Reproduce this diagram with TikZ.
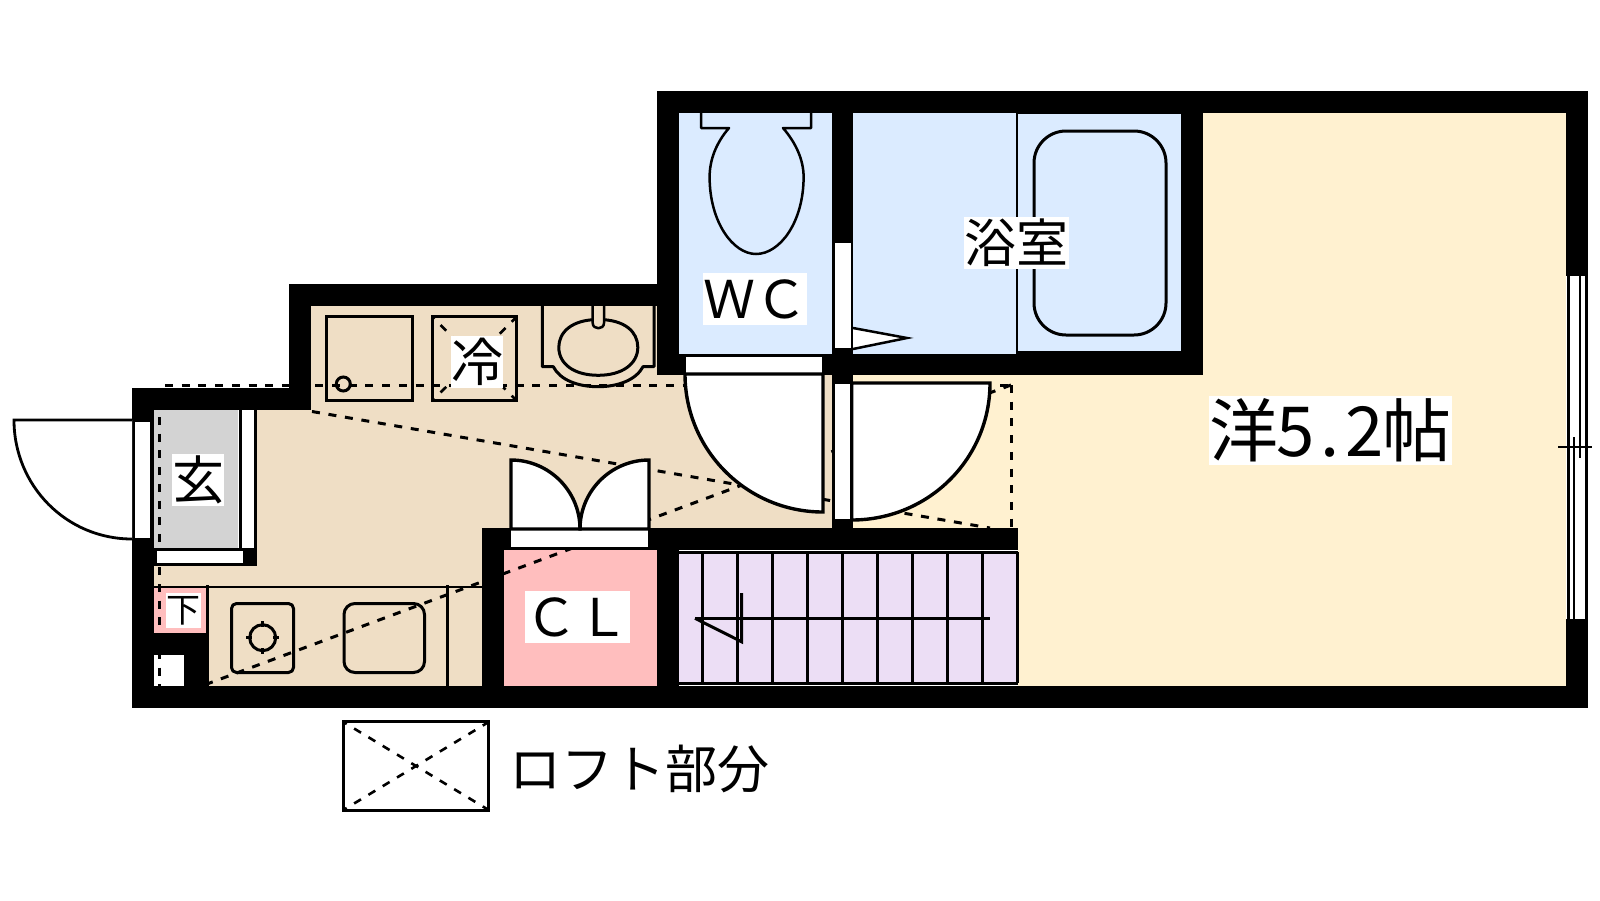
\documentclass[tikz,border=0pt]{standalone}
\usepackage{fontspec}
\newfontfamily\jp{Noto Sans CJK JP}
\definecolor{bluef}{RGB}{219,235,255}
\definecolor{creamf}{RGB}{255,241,208}
\definecolor{beigef}{RGB}{239,222,197}
\definecolor{pinkf}{RGB}{255,190,190}
\definecolor{lavf}{RGB}{236,222,245}
\definecolor{grayf}{RGB}{211,211,211}
\tikzset{
  wall/.style={fill=black,draw=none},
  loft/.style={line width=3pt,dash pattern=on 8pt off 8.7pt},
  xdash/.style={line width=2.6pt,dash pattern=on 8pt off 8.7pt,dash phase=6pt},
  fix/.style={draw=black,line width=3pt,line join=round},
  thinfix/.style={draw=black,line width=2.5pt,line join=round},
  lab/.style={fill=white,inner sep=0pt,outer sep=0pt,text=black,align=center,
    font=\jp\fontsize{52}{52}\selectfont},
  swing/.style={fill=white,draw=black,line width=3.4pt,line join=miter},
}
\newcommand{\hw}[1]{\makebox[34.5pt][c]{#1}}
\begin{document}
\begin{tikzpicture}[x=1pt,y=-1pt]
\useasboundingbox (0,0) rectangle (1600,900);
\fill[white] (0,0) rectangle (1600,900);
% floor fills
\fill[beigef] (154,410) -- (311,410) -- (311,306) -- (657,306) -- (657,375) -- (832,375) -- (832,528) -- (482,528) -- (482,686) -- (154,686) -- cycle;
\fill[creamf] (853,375) -- (1203,375) -- (1203,113) -- (1566,113) -- (1566,686) -- (1018,686) -- (1018,528) -- (853,528) -- cycle;
\fill[bluef] (679,113) rectangle (1181,354);
\fill[pinkf] (504,550) rectangle (657,686);
\fill[lavf] (679,552) rectangle (1018,683);
\fill[white] (679,550) rectangle (1018,551.5);
\fill[white] (679,684) rectangle (1018,686);
\fill[white] (154,410) rectangle (255,565);
\fill[grayf] (154,410) rectangle (238,548);
\fill[pinkf] (154,587) rectangle (207,633);
% loft outline, under the walls
\draw[loft] (165,385) -- (1011,385);
\draw[loft] (1011,385) -- (1011,528);
\draw[loft] (159,417) -- (159,686);
\draw[loft] (312,411.5) -- (990,528);
\draw[loft] (1011,385) -- (207,684);
% walls
\fill[wall] (132,388) rectangle (311,410);
\fill[wall] (289,284) rectangle (311,410);
\fill[wall] (289,284) rectangle (679,306);
\fill[wall] (657,91) rectangle (679,375);
\fill[wall] (657,91) rectangle (1588,113);
\fill[wall] (1566,91) rectangle (1588,708);
\fill[wall] (132,686) rectangle (1588,708);
\fill[wall] (132,388) rectangle (154,708);
\fill[wall] (1181,91) rectangle (1203,375);
\fill[wall] (657,354) rectangle (1203,375);
\fill[wall] (832,91) rectangle (853,528);
\fill[wall] (482,528) rectangle (504,708);
\fill[wall] (482,528) rectangle (1018,550);
\fill[wall] (657,528) rectangle (679,708);
\fill[wall] (243,548) rectangle (257,566);
\fill[wall] (154,548) rectangle (243,566);
\fill[wall] (154,633) rectangle (206,686);
% white cut-outs in the walls
\fill[white] (154,655) rectangle (184,686);
\begin{scope}
\clip (154,655) rectangle (184,686);
\draw[loft] (159,417) -- (159,686);
\end{scope}
% entrance
\draw[fill=white,draw=black,line width=2.8pt] (132,420) -- (14,420) .. controls (14,485.7) and (66.3,539) .. (132,539);
\fill[white] (133,422) rectangle (152,538);
\draw[line width=2.5pt] (134,421) -- (134,538) (151.5,421) -- (151.5,538);
\draw[line width=3pt] (240,410) -- (240,548);
\draw[line width=3pt] (255,410) -- (255,548);
\fill[white] (157,551) rectangle (243,563);
% counter
\draw[thinfix] (154,587) -- (482,587);
\draw[fix] (207,585) -- (207,686);
\draw[fix] (447.5,585) -- (447.5,686);
\draw[fix,rounded corners=5pt] (231.5,603.5) rectangle (293.5,672.5);
\draw[fix] (262.7,637.7) circle[radius=13];
\draw[fix] (262.7,621) -- (262.7,627) (262.7,648) -- (262.7,654) (246,637.7) -- (252,637.7) (273,637.7) -- (279,637.7);
\draw[fix,rounded corners=11pt] (344,603.5) rectangle (424.5,672.5);
% washer, fridge
\draw[line width=3pt] (326,316.7) rectangle (412.3,400.7);
\draw[line width=3pt] (343.3,384) circle[radius=7];
\draw[line width=3pt] (432.3,316.7) rectangle (516.7,400.7);
\draw[xdash] (433,400) -- (516,317.5);
\draw[xdash] (433,317.5) -- (516,400);
% basin
\draw[fix] (542.3,306) -- (542.3,366.7) -- (553.3,366.7) .. controls (560,380) and (578,386.7) .. (598,386.7) .. controls (618,386.7) and (636,380) .. (643,366.7) -- (654,366.7) -- (654,306);
\draw[fix] (598.3,319.5) .. controls (625,319.5) and (637.8,332) .. (637.8,347.3) .. controls (637.8,364) and (622,375.3) .. (598.3,375.3) .. controls (574,375.3) and (558.8,364) .. (558.8,347.3) .. controls (558.8,332) and (572,319.5) .. (598.3,319.5) -- cycle;
\draw[thinfix,fill=beigef] (592.7,306) -- (592.7,323) .. controls (592.7,330) and (604,330) .. (604,323) -- (604,306);
% WC
\draw[thinfix] (701,113) -- (701,128) -- (729,128) .. controls (716,143) and (709.6,160) .. (709.6,177) .. controls (709.6,222) and (733,254) .. (756,254) .. controls (780,254) and (803.6,222) .. (803.6,177) .. controls (803.6,160) and (796,143) .. (783,128) -- (811,128) -- (811,113);
% bath
\fill[black] (1017,351) rectangle (1181,354);
\draw[line width=1.5pt] (1017,113.5) -- (1181,113.5);
\draw[line width=2.5pt] (1017,113) -- (1017,354);
\draw[fix,rounded corners=32pt] (1034,131) rectangle (1166,335);
\fill[white] (835,243) rectangle (851,348);
\draw[line width=2.5pt,fill=white] (853,328) -- (907,338) -- (853,349);
% WC door
\fill[white] (686,356) rectangle (822,373);
\draw[thinfix] (686,355.5) -- (822,355.5);
\draw[swing] (823,374) -- (685,374) .. controls (685,450.2) and (746.8,512) .. (823,512) -- cycle;
% bath-side door
\fill[white] (834,384) rectangle (851,519);
\draw[line width=2pt] (833.5,384) -- (833.5,519);
\draw[swing] (851.7,383) -- (990,383) .. controls (990,458.7) and (928.7,520) .. (851.7,520) -- cycle;
% closet doors
\fill[white] (511,529) rectangle (648,547);
\draw[swing] (511,529) -- (511,460) .. controls (549,460) and (580,491) .. (580,529) -- cycle;
\draw[swing] (649,529) -- (649,460) .. controls (611,460) and (580,491) .. (580,529) -- cycle;
\draw[thinfix] (511,529) -- (649,529);
% stairs
\draw[line width=3pt] (679,552) -- (1018,552) (679,683) -- (1018,683);
\draw[line width=3pt] (1017,552) -- (1017,683);
\foreach \sx in {702.7,737.7,772.7,807.7,842.7,877.7,912.7,947.7,982.7}
  \draw[line width=3pt] (\sx,552) -- (\sx,683);
\draw[line width=3pt] (695,618.3) -- (990,618.3);
\draw[line width=3pt] (695,618.3) -- (741.5,641.7) -- (741.5,593);
% window
\fill[white] (1566,276) rectangle (1588,619);
\draw[line width=3pt] (1568.3,276) -- (1568.3,619);
\draw[line width=2.8pt] (1586.7,276) -- (1586.7,619);
\draw[line width=2.8pt] (1580,276) -- (1580,457.7);
\draw[line width=2.8pt] (1574,437) -- (1574,619);
\draw[line width=2.5pt] (1558,447) -- (1592,447);
% legend
\draw[line width=3pt] (343.3,721.3) rectangle (488.7,810.7);
\draw[xdash] (345,723) -- (487,809);
\draw[xdash] (345,809) -- (487,723);
% labels
\node[lab,minimum width=52pt,minimum height=52pt] (genkan) at (198,479.5) {玄};
\node[lab,minimum width=35pt,minimum height=35pt,font=\jp\fontsize{34}{35}\selectfont] (shita) at (183.5,610.5) {下};
\node[lab,minimum width=52pt,minimum height=52pt] (rei) at (477,362) {冷};
\node[lab,minimum width=104.5pt,minimum height=52pt] (wc) at (755.2,299) {ＷＣ};
\node[lab,minimum width=104.5pt,minimum height=52pt] (bath) at (1016.3,243) {浴室};
\node[lab,minimum width=105pt,minimum height=52pt] (cl) at (577.5,617) {ＣＬ};
\node[lab,minimum width=243pt,minimum height=69pt,font=\jp\fontsize{69}{69}\selectfont] (room) at (1330.5,430.5) {洋\hw{5}\hw{.}\hw{2}帖};
\node[lab,font=\jp\fontsize{52}{52}\selectfont,anchor=center] (legendtext) at (639,769) {ロフト部分};
\end{tikzpicture}
\end{document}
